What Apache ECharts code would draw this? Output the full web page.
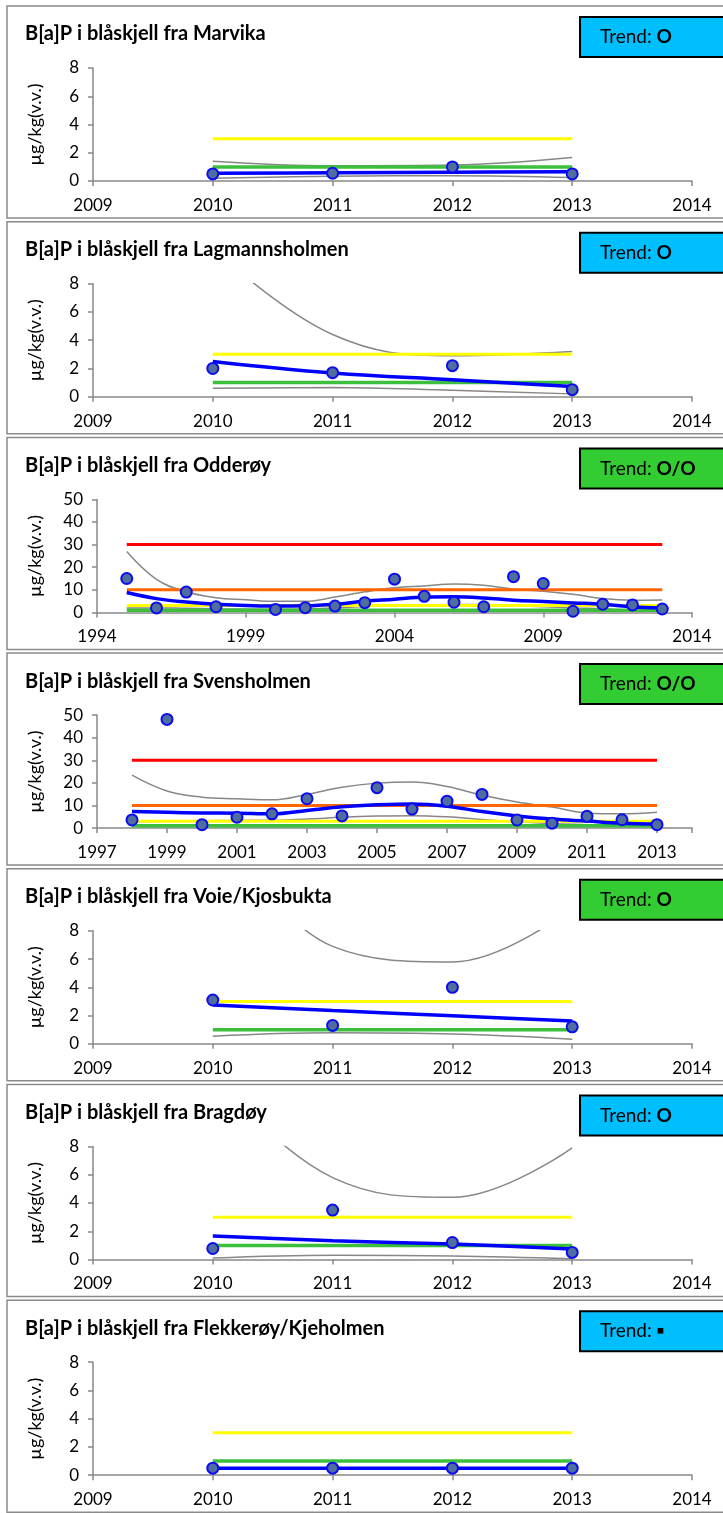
<!DOCTYPE html>
<html>
<head>
<meta charset="utf-8">
<script src="https://cdn.jsdelivr.net/npm/echarts@6/dist/echarts.min.js"></script>
<style>
  html, body { margin: 0; padding: 0; background: #fff; }
  #chart { width: 723px; height: 1513px; }
</style>
</head>
<body>
<div id="chart"></div>
<script>
// tick labels
const ticksShort = [2009, 2010, 2011, 2012, 2013, 2014];
const ticksOdderoy = [1994, 1999, 2004, 2009, 2014];
const labelsSvensholmen = [1997, 1999, 2001, 2003, 2005, 2007, 2009, 2011, 2013];
const ticksSvensholmen = [1997, 1999, 2001, 2003, 2005, 2007, 2009, 2011, 2013, 2014];

// klassegrenser (µg/kg v.v.)
const classLimits = [1, 3, 10, 30];

// år
const yearsShort = [2010, 2011, 2012, 2013];
const yearsOdderoyObs = [1995, 1996, 1997, 1998, 2000, 2001, 2002, 2003, 2004, 2005, 2006, 2007, 2008, 2009, 2010, 2011, 2012, 2013];
const yearsOdderoyFit = [1995, 1996, 1997, 1998, 1999, 2000, 2001, 2002, 2003, 2004, 2005, 2006, 2007, 2008, 2009, 2010, 2011, 2012, 2013];
const yearsSvensholmen = [1998, 1999, 2000, 2001, 2002, 2003, 2004, 2005, 2006, 2007, 2008, 2009, 2010, 2011, 2012, 2013];

// Marvika
const marvikaObs = [0.5, 0.55, 1.0, 0.5];
const marvikaTrend = [0.54, 0.58, 0.62, 0.66];
const marvikaUpper = [1.4, 1.08, 1.13, 1.66];
const marvikaLower = [0.2, 0.34, 0.37, 0.24];

// Lagmannsholmen
const lagmannObs = [2.0, 1.7, 2.2, 0.5];
const lagmannTrend = [2.5, 1.68, 1.2, 0.73];
const lagmannUpper = [10.5, 4.4, 2.9, 3.2];
const lagmannLower = [0.6, 0.65, 0.45, 0.2];

// Odderøy
const odderoyObs = [15, 2, 9, 2.5, 1.3, 2.1, 2.8, 4.3, 14.7, 7.1, 4.5, 2.5, 15.8, 12.8, 0.5, 3.6, 3.3, 1.5];
const odderoyTrend = [8.8, 6.1, 4.6, 3.6, 3.1, 2.8, 2.9, 3.6, 4.9, 5.8, 6.8, 6.9, 6.4, 5.4, 4.8, 4.2, 3.6, 2.4, 2.1];
const odderoyUpper = [26.9, 14.6, 9.1, 6.5, 5.6, 4.9, 4.9, 6.8, 9.1, 10.9, 11.7, 12.6, 12.0, 10.3, 9.4, 8.0, 6.1, 5.4, 5.5];
const odderoyLower = [2.0, 2.0, 1.8, 1.6, 1.5, 1.4, 1.5, 2.0, 2.6, 3.0, 3.3, 3.5, 3.5, 3.0, 2.5, 2.0, 1.6, 1.0, 0.8];

// Svensholmen
const svensObs = [3.6, 48.1, 1.5, 4.8, 6.3, 13.0, 5.4, 17.9, 8.4, 11.9, 14.9, 3.6, 2.2, 5.2, 3.7, 1.5];
const svensTrend = [7.3, 7.0, 6.7, 6.6, 6.3, 7.8, 9.4, 10.3, 10.7, 9.7, 7.3, 5.4, 4.0, 3.1, 2.2, 1.8];
const svensUpper = [23.4, 16.4, 13.7, 13.0, 12.5, 14.9, 18.1, 19.9, 20.4, 18.4, 14.6, 11.5, 9.3, 6.7, 6.3, 7.0];
const svensLower = [2.6, 3.0, 3.3, 3.4, 3.5, 4.0, 4.8, 5.3, 5.5, 5.0, 3.8, 2.8, 2.0, 1.5, 1.0, 0.6];

// Voie/Kjosbukta
const voieObs = [3.1, 1.3, 4.0, 1.2];
const voieTrend = [2.75, 2.35, 1.98, 1.62];
const voieUpper = [16, 6.9, 5.8, 9.6];
const voieLower = [0.54, 0.78, 0.69, 0.33];

// Bragdøy
const bragdoyObs = [0.78, 3.5, 1.2, 0.5];
const bragdoyTrend = [1.66, 1.33, 1.09, 0.75];
const bragdoyUpper = [13, 5.8, 4.4, 7.9];
const bragdoyLower = [0.1, 0.3, 0.25, 0.05];

// Flekkerøy/Kjeholmen
const flekkObs = [0.5, 0.5, 0.5, 0.5];
const flekkTrend = [0.5, 0.5, 0.5, 0.5];

const FONT = 'Lato, "Open Sans", sans-serif';
const AXIS_COLOR = '#898989';
const limitColors = ['#3cbf3c', '#ffff00', '#ff6600', '#ff0000'];
const BLUE_BOX = '#00bfff';
const GREEN_BOX = '#33cc33';

const panels = [
  { title: 'B[a]P i blåskjell fra Marvika', trend: 'O', box: BLUE_BOX,
    obsYears: yearsShort, fitYears: yearsShort, obs: marvikaObs, fit: marvikaTrend, upper: marvikaUpper, lower: marvikaLower,
    xMin: 2009, xMax: 2014, labels: ticksShort, ticks: ticksShort, yMax: 8, yInt: 2, left: 93 },
  { title: 'B[a]P i blåskjell fra Lagmannsholmen', trend: 'O', box: BLUE_BOX,
    obsYears: yearsShort, fitYears: yearsShort, obs: lagmannObs, fit: lagmannTrend, upper: lagmannUpper, lower: lagmannLower,
    xMin: 2009, xMax: 2014, labels: ticksShort, ticks: ticksShort, yMax: 8, yInt: 2, left: 93 },
  { title: 'B[a]P i blåskjell fra Odderøy', trend: 'O/O', box: GREEN_BOX,
    obsYears: yearsOdderoyObs, fitYears: yearsOdderoyFit, obs: odderoyObs, fit: odderoyTrend, upper: odderoyUpper, lower: odderoyLower,
    xMin: 1994, xMax: 2014, labels: ticksOdderoy, ticks: ticksOdderoy, yMax: 50, yInt: 10, left: 97 },
  { title: 'B[a]P i blåskjell fra Svensholmen', trend: 'O/O', box: GREEN_BOX,
    obsYears: yearsSvensholmen, fitYears: yearsSvensholmen, obs: svensObs, fit: svensTrend, upper: svensUpper, lower: svensLower,
    xMin: 1997, xMax: 2014, labels: labelsSvensholmen, ticks: ticksSvensholmen, yMax: 50, yInt: 10, left: 97 },
  { title: 'B[a]P i blåskjell fra Voie/Kjosbukta', trend: 'O', box: GREEN_BOX,
    obsYears: yearsShort, fitYears: yearsShort, obs: voieObs, fit: voieTrend, upper: voieUpper, lower: voieLower,
    xMin: 2009, xMax: 2014, labels: ticksShort, ticks: ticksShort, yMax: 8, yInt: 2, left: 93 },
  { title: 'B[a]P i blåskjell fra Bragdøy', trend: 'O', box: BLUE_BOX,
    obsYears: yearsShort, fitYears: yearsShort, obs: bragdoyObs, fit: bragdoyTrend, upper: bragdoyUpper, lower: bragdoyLower,
    xMin: 2009, xMax: 2014, labels: ticksShort, ticks: ticksShort, yMax: 8, yInt: 2, left: 93 },
  { title: 'B[a]P i blåskjell fra Flekkerøy/Kjeholmen', trend: '▪', box: BLUE_BOX,
    obsYears: yearsShort, fitYears: yearsShort, obs: flekkObs, fit: flekkTrend, upper: null, lower: null,
    xMin: 2009, xMax: 2014, labels: ticksShort, ticks: ticksShort, yMax: 8, yInt: 2, left: 93 }
];

const zip = (xs, ys) => xs.map((x, k) => [x, ys[k]]);

const option = {
  animation: false,
  title: [], grid: [], xAxis: [], yAxis: [], series: [], graphic: []
};

panels.forEach((p, i) => {
  const top = 6 + i * 215.7;

  // ramme
  option.graphic.push({
    type: 'rect', z: -10,
    shape: { x: 7, y: top, width: 740, height: 212 },
    style: { fill: '#fff', stroke: '#8a8a8a', lineWidth: 1.5 }
  });
  // trend-boks
  option.graphic.push({
    type: 'rect', z: 10,
    shape: { x: 580, y: top + 11, width: 160, height: 40 },
    style: { fill: p.box, stroke: '#000', lineWidth: 2 }
  });
  option.graphic.push({
    type: 'text', z: 11, x: 600, y: top + 31,
    style: {
      text: '{n|Trend: }{s|' + p.trend + '}',
      verticalAlign: 'middle',
      rich: {
        n: { fontFamily: FONT, fontSize: 19, fill: '#000' },
        s: { fontFamily: FONT, fontSize: 19, fontWeight: 'bold', fill: '#000' }
      }
    }
  });

  option.title.push({
    text: p.title, left: 25, top: top + 18, padding: 0,
    textStyle: { fontFamily: FONT, fontSize: 20, fontWeight: 'bold', color: '#000' }
  });

  option.grid.push({ left: p.left, right: 31, top: top + 62, height: 113 });

  option.xAxis.push({
    gridIndex: i, type: 'value', min: p.xMin, max: p.xMax,
    axisLine: { lineStyle: { color: AXIS_COLOR, width: 1.5 } },
    axisTick: { show: true, length: 5, customValues: p.ticks, lineStyle: { color: AXIS_COLOR, width: 1.5 } },
    axisLabel: { customValues: p.labels, margin: 16, fontSize: 17, fontFamily: FONT, color: '#000',
      formatter: v => String(v) },
    splitLine: { show: false }
  });

  option.yAxis.push({
    gridIndex: i, type: 'value', min: 0, max: p.yMax, interval: p.yInt,
    name: 'µg/kg(v.v.)', nameLocation: 'middle', nameRotate: 90, nameGap: p.left - 44,
    nameTextStyle: { fontFamily: FONT, fontSize: 18, color: '#000' },
    axisLine: { show: true, lineStyle: { color: AXIS_COLOR, width: 1.5 } },
    axisTick: { show: true, length: 5, lineStyle: { color: AXIS_COLOR, width: 1.5 } },
    axisLabel: { margin: 14, fontSize: 17, fontFamily: FONT, color: '#000' },
    splitLine: { show: false }
  });

  // konfidensbånd
  [p.upper, p.lower].forEach(band => {
    if (!band) return;
    option.series.push({
      type: 'line', xAxisIndex: i, yAxisIndex: i, z: 2,
      data: zip(p.fitYears, band), smooth: 0.4, symbol: 'none', clip: true,
      lineStyle: { color: '#878787', width: 1.5 }
    });
  });

  // klassegrenser
  const x0 = p.obsYears[0], x1 = p.obsYears[p.obsYears.length - 1];
  classLimits.forEach((lim, k) => {
    if (lim > p.yMax) return;
    option.series.push({
      type: 'line', xAxisIndex: i, yAxisIndex: i, z: 3,
      data: [[x0, lim], [x1, lim]], symbol: 'none', clip: true,
      lineStyle: { color: limitColors[k], width: k === 0 ? 3.5 : 3 }
    });
  });

  // trendlinje
  option.series.push({
    type: 'line', xAxisIndex: i, yAxisIndex: i, z: 4,
    data: zip(p.fitYears, p.fit), smooth: 0.4, symbol: 'none', clip: true,
    lineStyle: { color: '#0000ff', width: 3.5 }
  });

  // målinger
  option.series.push({
    type: 'scatter', xAxisIndex: i, yAxisIndex: i, z: 5,
    data: zip(p.obsYears, p.obs), symbolSize: 11,
    itemStyle: { color: '#4f6e9e', borderColor: '#0c0cf0', borderWidth: 2, opacity: 1 }
  });
});

const myChart = echarts.init(document.getElementById('chart'));
myChart.setOption(option);
</script>
</body>
</html>
